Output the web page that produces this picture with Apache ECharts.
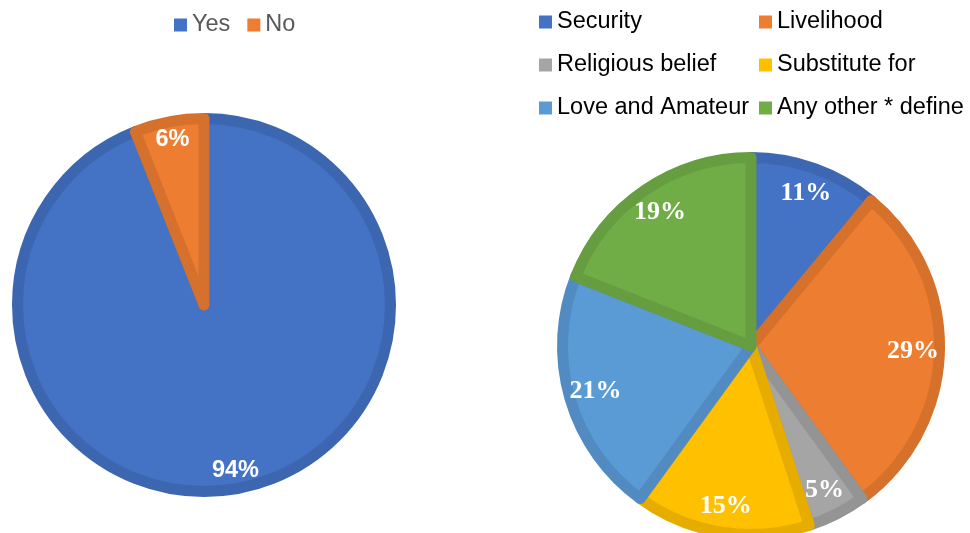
<!DOCTYPE html>
<html>
<head>
<meta charset="utf-8">
<script src="https://cdn.jsdelivr.net/npm/echarts@6/dist/echarts.min.js"></script>
<style>
html,body{margin:0;padding:0;background:#fff;}
#chart{width:970px;height:533px;}
</style>
</head>
<body>
<div id="chart"></div>
<script>
// Left chart data
var leftCategories = ['Yes', 'No'];
var leftValues = [94, 6];
var leftColors = ['#4472C4', '#ED7D31'];
var leftBorders = ['#3D66B0', '#D5712C'];

// Right chart data
var rightCategories = ['Security', 'Livelihood', 'Religious belief', 'Substitute for', 'Love and Amateur', 'Any other * define'];
var rightValues = [11, 29, 5, 15, 21, 19];
var rightColors = ['#4472C4', '#ED7D31', '#A5A5A5', '#FFC000', '#5B9BD5', '#70AD47'];
var rightBorders = ['#3E67B3', '#D5712B', '#949494', '#E6AC00', '#528BC2', '#659D40'];

function buildData(cats, vals, colors, borders) {
  return cats.map(function (c, i) {
    return { name: c, value: vals[i], itemStyle: { color: colors[i], borderColor: borders[i] } };
  });
}
function buildLabelData(cats, vals) {
  return cats.map(function (c, i) { return { name: c, value: vals[i] }; });
}

var chart = echarts.init(document.getElementById('chart'), null, { renderer: 'canvas' });

var legendText = { fontFamily: 'Liberation Sans, Arial, sans-serif', fontSize: 23.5, lineHeight: 24 };

var option = {
  animation: false,
  legend: [
    {
      data: leftCategories,
      orient: 'horizontal',
      left: 174, top: 13, padding: 0,
      itemWidth: 13, itemHeight: 13, itemGap: 17,
      icon: 'rect',
      itemStyle: { borderWidth: 0 },
      textStyle: Object.assign({ color: '#595959' }, legendText)
    },
    {
      data: [rightCategories[0], rightCategories[2], rightCategories[4]],
      orient: 'vertical',
      left: 539, top: 10, padding: 0,
      itemWidth: 13, itemHeight: 13, itemGap: 19,
      icon: 'rect',
      itemStyle: { borderWidth: 0 },
      textStyle: Object.assign({ color: '#000000' }, legendText)
    },
    {
      data: [rightCategories[1], rightCategories[3], rightCategories[5]],
      orient: 'vertical',
      left: 759, top: 10, padding: 0,
      itemWidth: 13, itemHeight: 13, itemGap: 19,
      icon: 'rect',
      itemStyle: { borderWidth: 0 },
      textStyle: Object.assign({ color: '#000000' }, legendText)
    }
  ],
  series: [
    {
      type: 'pie',
      center: [204, 305],
      radius: [0, 186.5],
      startAngle: 90,
      clockwise: true,
      silent: true,
      data: buildData(leftCategories, leftValues, leftColors, leftBorders),
      itemStyle: { borderWidth: 11 },
      label: { show: false },
      labelLine: { show: false }
    },
    {
      type: 'pie',
      center: [751, 346],
      radius: [0, 188.5],
      startAngle: 90,
      clockwise: true,
      silent: true,
      data: buildData(rightCategories, rightValues, rightColors, rightBorders),
      itemStyle: { borderWidth: 11 },
      label: { show: false },
      labelLine: { show: false }
    },
    {
      type: 'pie',
      center: [204, 305],
      radius: [138, 192],
      startAngle: 90,
      clockwise: true,
      silent: true,
      legendHoverLink: false,
      data: buildLabelData(leftCategories, leftValues),
      itemStyle: { color: 'rgba(0,0,0,0)', borderWidth: 0 },
      label: {
        show: true, position: 'inside', formatter: '{c}%',
        color: '#ffffff', fontWeight: 'bold', fontSize: 23.5,
        fontFamily: 'Liberation Sans, Arial, sans-serif'
      },
      labelLine: { show: false },
      emphasis: { disabled: true }
    },
    {
      type: 'pie',
      center: [751, 346],
      radius: [124, 194],
      startAngle: 90,
      clockwise: true,
      silent: true,
      legendHoverLink: false,
      data: buildLabelData(rightCategories, rightValues),
      itemStyle: { color: 'rgba(0,0,0,0)', borderWidth: 0 },
      label: {
        show: true, position: 'inside', formatter: '{c}%',
        color: '#ffffff', fontWeight: 'bold', fontSize: 26,
        fontFamily: 'Liberation Serif, Times New Roman, serif'
      },
      labelLine: { show: false },
      emphasis: { disabled: true }
    }
  ]
};
chart.setOption(option);
</script>
</body>
</html>
